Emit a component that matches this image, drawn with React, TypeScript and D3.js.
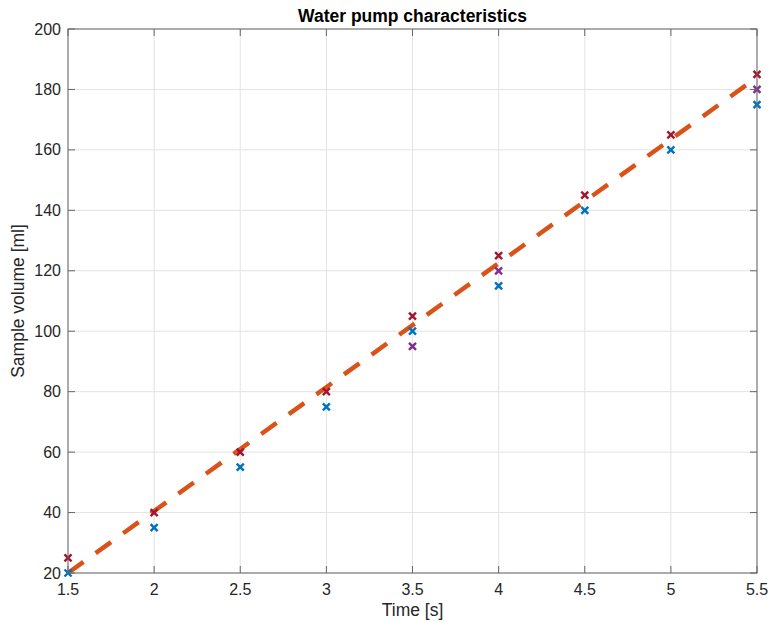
import React, { useRef, useEffect } from 'react';
import * as d3 from 'd3';

const timeS = [1.5, 2, 2.5, 3, 3.5, 4, 4.5, 5, 5.5];
const volumeBlue = [20, 35, 55, 75, 100, 115, 140, 160, 175];
const volumeRed = [25, 40, 60, 80, 105, 125, 145, 165, 185];
const timePurple = [3.5, 4, 5.5];
const volumePurple = [95, 120, 180];
const fitX = [1.5, 5.5];
const fitY = [20, 184];
const xTicks = [1.5, 2, 2.5, 3, 3.5, 4, 4.5, 5, 5.5];
const yTicks = [20, 40, 60, 80, 100, 120, 140, 160, 180, 200];

function App() {
    const ref = useRef<SVGSVGElement>(null);

    useEffect(() => {
        const margin = { top: 29, right: 14, bottom: 50, left: 68 };
        const W = 771, H = 623;
        const width = W - margin.left - margin.right;
        const height = H - margin.top - margin.bottom;
        const font = "'Liberation Sans', Arial, Helvetica, sans-serif";

        const root = d3.select(ref.current);
        root.selectAll("*").remove();
        const svg = root.append("g")
            .attr("transform", "translate(" + margin.left + "," + margin.top + ")");

        const x = d3.scaleLinear().domain([1.5, 5.5]).range([0, width]);
        const y = d3.scaleLinear().domain([20, 200]).range([height, 0]);

        // grid
        svg.append("g").selectAll("line").data(xTicks).enter().append("line")
            .attr("x1", d => x(d)).attr("x2", d => x(d))
            .attr("y1", 0).attr("y2", height)
            .attr("stroke", "#e3e3e3").attr("stroke-width", 1);
        svg.append("g").selectAll("line").data(yTicks).enter().append("line")
            .attr("y1", d => y(d)).attr("y2", d => y(d))
            .attr("x1", 0).attr("x2", width)
            .attr("stroke", "#e3e3e3").attr("stroke-width", 1);

        // fit line
        const line = d3.line<number>().x((d, i) => x(fitX[i])).y(d => y(d));
        svg.append("path")
            .attr("d", line(fitY))
            .attr("fill", "none")
            .attr("stroke", "#D95319")
            .attr("stroke-width", 4.5)
            .attr("stroke-dasharray", "19 15");

        const drawX = (xs: number[], ys: number[], color: string) => {
            const s = 3.5;
            const g = svg.append("g");
            xs.forEach((t, i) => {
                const cx = x(t), cy = y(ys[i]);
                g.append("path")
                    .attr("d", `M${cx - s},${cy - s}L${cx + s},${cy + s}M${cx - s},${cy + s}L${cx + s},${cy - s}`)
                    .attr("stroke", color)
                    .attr("stroke-width", 2.4)
                    .attr("fill", "none");
            });
        };
        drawX(timeS, volumeRed, "#A2142F");
        drawX(timePurple, volumePurple, "#7E2F8E");
        drawX(timeS, volumeBlue, "#0072BD");

        // box + ticks
        const axisColor = "#666";
        const tl = 7;
        const axisG = svg.append("g");
        axisG.append("rect")
            .attr("x", 0).attr("y", 0).attr("width", width).attr("height", height)
            .attr("fill", "none").attr("stroke", axisColor).attr("stroke-width", 1);
        xTicks.forEach(t => {
            axisG.append("line").attr("x1", x(t)).attr("x2", x(t)).attr("y1", height).attr("y2", height - tl)
                .attr("stroke", axisColor);
            axisG.append("line").attr("x1", x(t)).attr("x2", x(t)).attr("y1", 0).attr("y2", tl)
                .attr("stroke", axisColor);
            axisG.append("text")
                .attr("x", x(t)).attr("y", height + 22)
                .attr("text-anchor", "middle")
                .style("font-family", font).style("font-size", "16px")
                .attr("fill", "#262626")
                .text(String(t));
        });
        yTicks.forEach(t => {
            axisG.append("line").attr("x1", 0).attr("x2", tl).attr("y1", y(t)).attr("y2", y(t))
                .attr("stroke", axisColor);
            axisG.append("line").attr("x1", width).attr("x2", width - tl).attr("y1", y(t)).attr("y2", y(t))
                .attr("stroke", axisColor);
            axisG.append("text")
                .attr("x", -7).attr("y", y(t))
                .attr("dy", "0.35em")
                .attr("text-anchor", "end")
                .style("font-family", font).style("font-size", "16px")
                .attr("fill", "#262626")
                .text(String(t));
        });

        svg.append("text")
            .attr("x", width / 2).attr("y", height + 43)
            .attr("text-anchor", "middle")
            .style("font-family", font).style("font-size", "17.5px")
            .attr("fill", "#262626")
            .text("Time [s]");

        svg.append("text")
            .attr("transform", "rotate(-90)")
            .attr("x", -height / 2).attr("y", -44)
            .attr("text-anchor", "middle")
            .style("font-family", font).style("font-size", "17.5px")
            .attr("fill", "#262626")
            .text("Sample volume [ml]");

        svg.append("text")
            .attr("x", width / 2).attr("y", -7)
            .attr("text-anchor", "middle")
            .style("font-family", font).style("font-size", "17.5px")
            .style("font-weight", "bold")
            .attr("fill", "#000")
            .text("Water pump characteristics");
    }, []);

    return (
        <svg ref={ref} width={771} height={623}
            style={{ position: "absolute", left: 0, top: 0, background: "#fff" }} />
    );
}

export default App;
